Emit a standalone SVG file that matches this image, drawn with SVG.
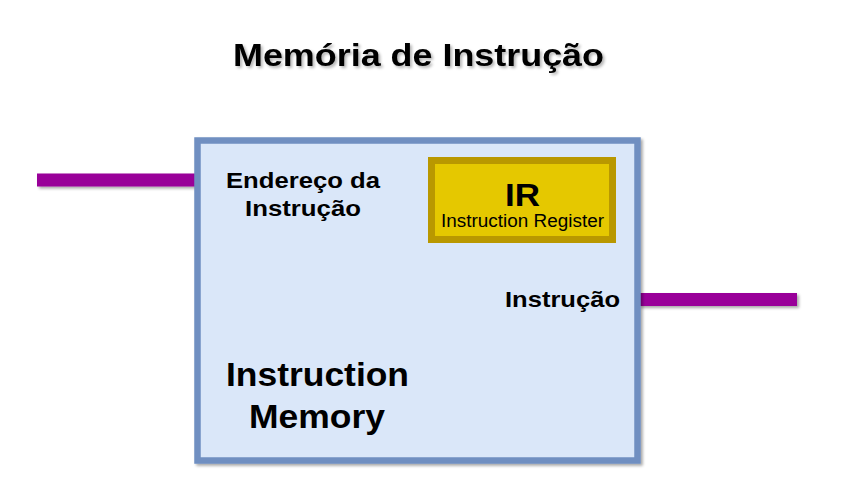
<svg xmlns="http://www.w3.org/2000/svg" width="841" height="500" viewBox="0 0 841 500">
<defs>
<filter id="sh" x="-10%" y="-10%" width="130%" height="130%">
<feGaussianBlur in="SourceAlpha" stdDeviation="1.5"/>
<feOffset dx="2" dy="2" result="b"/>
<feComponentTransfer><feFuncA type="linear" slope="0.35"/></feComponentTransfer>
<feMerge><feMergeNode/><feMergeNode in="SourceGraphic"/></feMerge>
</filter>
<filter id="tsh" x="-10%" y="-20%" width="120%" height="160%">
<feGaussianBlur in="SourceAlpha" stdDeviation="1.5"/>
<feOffset dx="2" dy="2"/>
<feComponentTransfer><feFuncA type="linear" slope="0.3"/></feComponentTransfer>
<feMerge><feMergeNode/><feMergeNode in="SourceGraphic"/></feMerge>
</filter>
</defs>
<style>
text{font-family:"Liberation Sans",Arial,sans-serif;fill:#000}
.b{font-weight:bold}
.wire{stroke:#990099;stroke-width:13;fill:none}
</style>
<rect width="841" height="500" fill="#fff"/>
<text x="233" y="66" class="b" font-size="31" textLength="371" lengthAdjust="spacingAndGlyphs" filter="url(#tsh)">Memória de Instrução</text>
<g id="connectors" filter="url(#sh)">
<line class="wire" x1="37" y1="180" x2="196" y2="180"/>
<line class="wire" x1="639" y1="299.5" x2="797" y2="299.5"/>
</g>
<g id="instruction-memory">
<rect x="197.5" y="140.5" width="440" height="320" fill="#dae7f9" stroke="#6f8fc1" stroke-width="6.5" filter="url(#sh)"/>
<text x="226" y="188" class="b" font-size="22" textLength="154" lengthAdjust="spacingAndGlyphs">Endereço da</text>
<text x="245" y="216" class="b" font-size="22" textLength="116" lengthAdjust="spacingAndGlyphs">Instrução</text>
<text x="505" y="307" class="b" font-size="22" textLength="115" lengthAdjust="spacingAndGlyphs">Instrução</text>
<text x="226" y="386" class="b" font-size="34" textLength="183" lengthAdjust="spacingAndGlyphs">Instruction</text>
<text x="249" y="428" class="b" font-size="34" textLength="136" lengthAdjust="spacingAndGlyphs">Memory</text>
</g>
<g id="ir">
<rect x="431.5" y="160.5" width="181" height="79" fill="#e5c800" stroke="#b99800" stroke-width="7"/>
<text x="505" y="206" class="b" font-size="31" textLength="35" lengthAdjust="spacingAndGlyphs">IR</text>
<text x="441" y="227" font-size="18" textLength="163" lengthAdjust="spacingAndGlyphs">Instruction Register</text>
</g>
</svg>
